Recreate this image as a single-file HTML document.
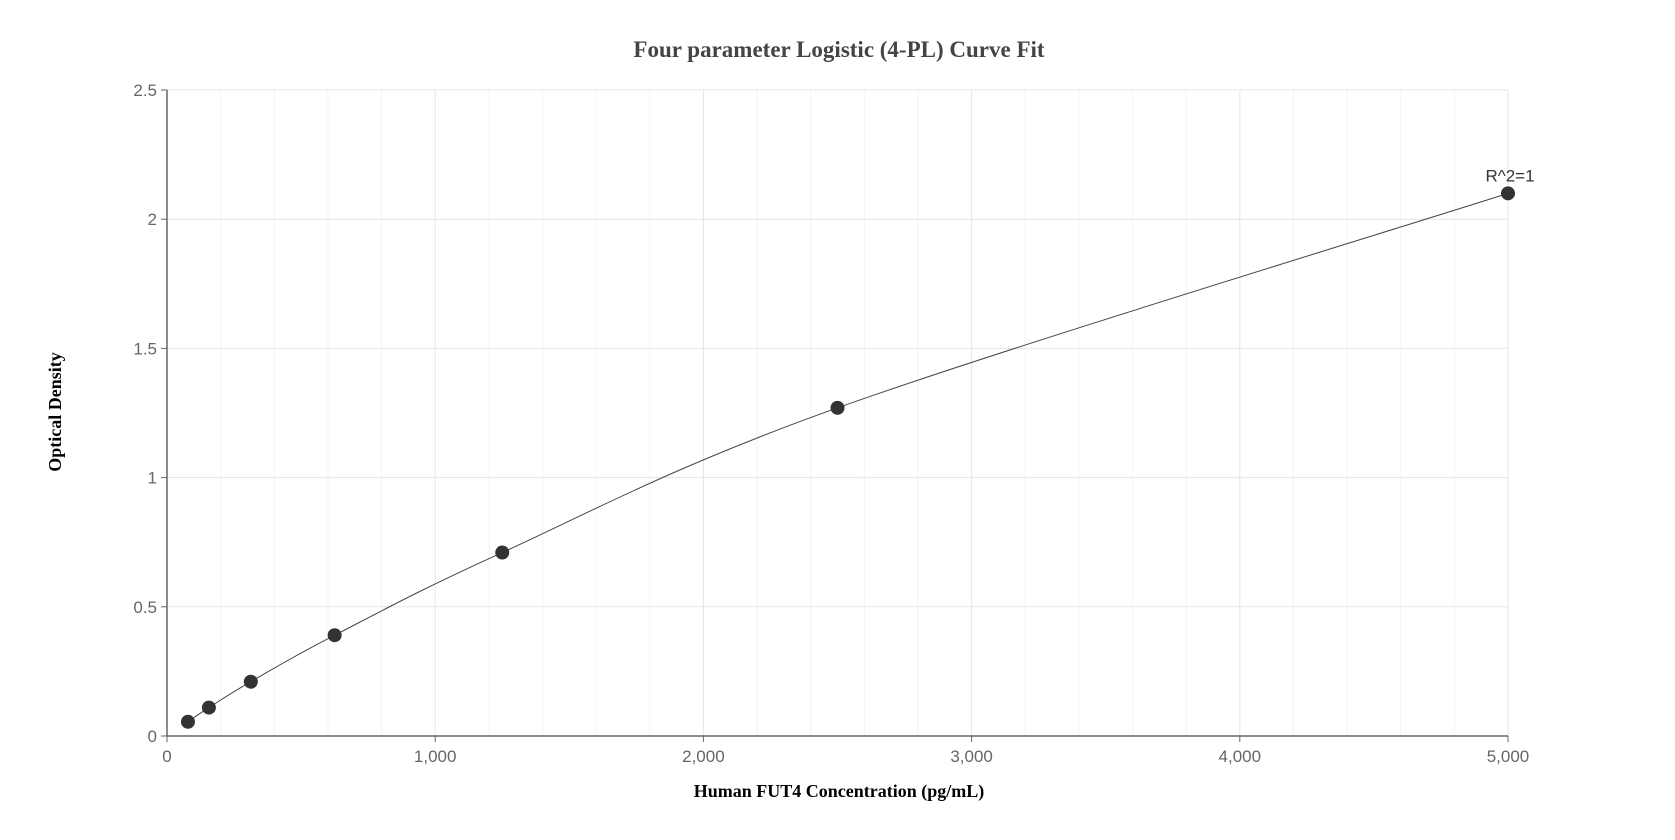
<!DOCTYPE html>
<html><head><meta charset="utf-8"><style>
html,body{margin:0;padding:0;background:#fff;}
svg{display:block;}
</style></head><body>
<svg id="chart" width="1675" height="840" xmlns="http://www.w3.org/2000/svg">
<text x="839" y="57" text-anchor="middle" font-family="Liberation Serif, serif" font-weight="bold" font-size="23" fill="#444">Four parameter Logistic (4-PL) Curve Fit</text>
<text transform="translate(61,412) rotate(-90)" text-anchor="middle" font-family="Liberation Serif, serif" font-weight="bold" font-size="18" fill="#000">Optical Density</text>
<text x="839" y="797" text-anchor="middle" font-family="Liberation Serif, serif" font-weight="bold" font-size="18" fill="#000">Human FUT4 Concentration (pg/mL)</text>
<g id="grid"></g><g id="axes"></g><g id="curve"></g><g id="points"></g>
</svg>
<script>
const xTicks=[0,1000,2000,3000,4000,5000];
const xTickLabels=["0","1,000","2,000","3,000","4,000","5,000"];
const yTicks=[0,0.5,1,1.5,2,2.5];
const yTickLabels=["0","0.5","1","1.5","2","2.5"];
const concentrations=[78.125,156.25,312.5,625,1250,2500,5000];
const odValues=[0.055,0.11,0.21,0.39,0.71,1.27,2.1];
const X0=167,X1=1508,Y0=736,Y1=90;
const sx=v=>X0+(v-0)/5000*(X1-X0);
const sy=v=>Y0-(v/2.5)*(Y0-Y1);
const NS="http://www.w3.org/2000/svg";
function mk(t,a,p){const e=document.createElementNS(NS,t);for(const k in a)e.setAttribute(k,a[k]);p.appendChild(e);return e;}
const grid=document.getElementById('grid'),axes=document.getElementById('axes');
for(let v=200;v<=5000;v+=200){
 const l=mk('line',{x1:sx(v),x2:sx(v),y1:Y1,y2:Y0,stroke:v%1000===0?'#e3e6ea':'#f1f3f5','stroke-width':1},grid);
 
 
}
yTicks.forEach((v,i)=>{
 if(v>0){const l=mk('line',{x1:X0,x2:X1,y1:sy(v),y2:sy(v),stroke:'#e3e6ea','stroke-width':1},grid);
 
 }
 const t=mk('line',{x1:X0-6,x2:X0,y1:sy(v),y2:sy(v),stroke:'#666'},axes);
 
 
 const tx=mk('text',{x:X0-10,y:sy(v)+6,'text-anchor':'end','font-family':'Liberation Sans, sans-serif','font-size':17,fill:'#666'},axes);
 tx.textContent=yTickLabels[i];
 
 
});
xTicks.forEach((v,i)=>{
 const t=mk('line',{x1:sx(v),x2:sx(v),y1:Y0,y2:Y0+6,stroke:'#666'},axes);
 
 
 const tx=mk('text',{x:sx(v),y:Y0+26,'text-anchor':'middle','font-family':'Liberation Sans, sans-serif','font-size':17,fill:'#666'},axes);
 tx.textContent=xTickLabels[i];
 
 
});
const ya=mk('line',{x1:X0,x2:X0,y1:Y1,y2:Y0,stroke:'#666','stroke-width':1.5},axes);


const xa=mk('line',{x1:X0,x2:X1,y1:Y0,y2:Y0,stroke:'#666','stroke-width':1.5},axes);


const P=concentrations.map((c,i)=>[sx(c),sy(odValues[i])]);
let d='M'+P[0][0]+','+P[0][1];
for(let i=0;i<P.length-1;i++){
 const p0=P[Math.max(0,i-1)],p1=P[i],p2=P[i+1],p3=P[Math.min(P.length-1,i+2)];
 const c1=[p1[0]+(p2[0]-p0[0])/6,p1[1]+(p2[1]-p0[1])/6];
 const c2=[p2[0]-(p3[0]-p1[0])/6,p2[1]-(p3[1]-p1[1])/6];
 d+=` C${c1[0]},${c1[1]} ${c2[0]},${c2[1]} ${p2[0]},${p2[1]}`;
}
const cv=mk('path',{d:d,fill:'none',stroke:'#444','stroke-width':1},document.getElementById('curve'));


const pts=document.getElementById('points');
P.forEach(p=>{
 const c=mk('circle',{cx:p[0],cy:p[1],r:7,fill:'#333'},pts);
 
 
});
const lab=mk('text',{x:P[P.length-1][0]+2,y:P[P.length-1][1]-12,'text-anchor':'middle','font-family':'Liberation Sans, sans-serif','font-size':17,fill:'#333'},pts);
lab.textContent='R^2=1';


</script>
</body></html>
